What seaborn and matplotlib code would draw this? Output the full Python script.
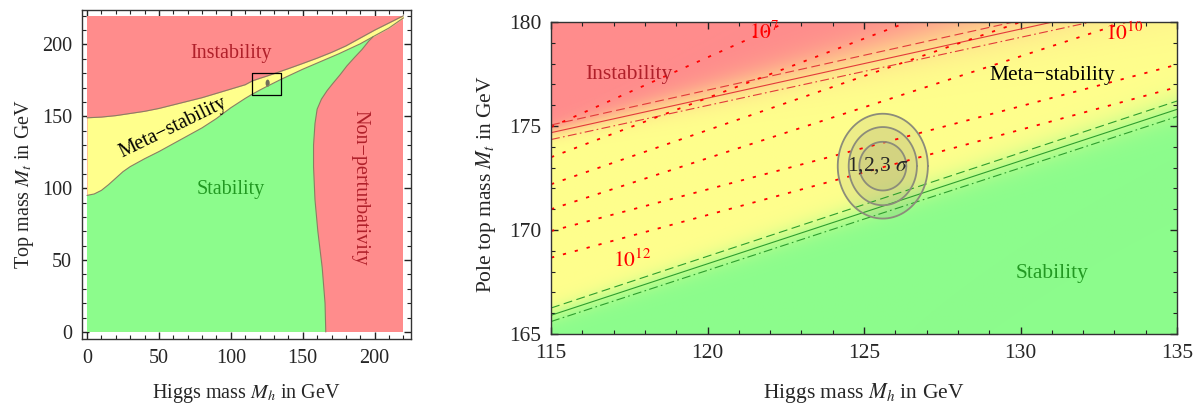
import numpy as np
import matplotlib
matplotlib.use("Agg")
import matplotlib.pyplot as plt
from matplotlib.ticker import MultipleLocator
import seaborn as sns

# ---- left panel: phase boundaries in the (Mh, Mt) plane, GeV ----
upper_mh = [0, 10, 20, 30, 40, 50, 60, 70, 80, 90, 100, 110, 115, 120, 125, 130,
            140, 150, 160, 170, 180, 190, 200, 210, 220]
upper_mt = [149, 149.5, 150.5, 152, 153.5, 155.5, 158, 160.5, 163, 166, 169, 172,
            174.7, 176.4, 178, 179.7, 183.2, 186.8, 190.5, 194.5, 199, 204.5, 210, 215, 220]
lower_mh = [0, 5, 10, 15, 20, 25, 30, 40, 50, 60, 70, 80, 90, 100, 110, 115, 120,
            125, 130, 135, 150, 175, 190, 199, 210, 220]
lower_mt = [95, 96, 98.5, 102.5, 107, 111.5, 115, 120.5, 125.5, 131, 136.5, 142,
            148.5, 156, 162.5, 165.5, 168.2, 170.8, 173.3, 175.8, 182.8, 193.5,
            200.5, 205.5, 211.5, 218.5]
nonpert_mh = [166, 165.5, 163.5, 160.5, 158.5, 157.5, 157.5, 158.5, 160, 163, 167,
              171, 176, 180.6, 186, 191, 196, 199]
nonpert_mt = [0, 20, 45, 70, 92, 115, 130, 145, 155, 162, 168, 173, 179, 185, 191,
              196.3, 202.5, 205.5]

# ---- right panel: zoom window ----
zoom_mh = [115, 135]
zoom_mt = [165, 180]

# boundary lines, Mt at Mh = 115 and Mh = 135
red_solid = [174.68, 181.32]
red_dash = [175.05, 181.75]
red_dashdot = [174.35, 180.90]
green_solid = [165.90, 175.80]
green_dash = [166.25, 176.20]
green_dashdot = [165.60, 175.45]

# colour shading edges (theory error band), Mt at Mh = 115 and 135, and blur width
pink_edge = [174.7, 182.2]
pink_blur = [0.2, 0.9]
green_edge = [165.95, 175.9]
green_blur = [0.25, 0.4]

# instability scale contours (dotted), Mt at Mh = 115 and Mh = 135
lambda_exp = [7, 8, 9, 10, 11, 12]
lambda_mt115 = [174.95, 173.5, 172.2, 171.0, 169.95, 168.67]
lambda_mt135 = [188.35, 184.9, 182.6, 180.8, 177.95, 176.87]

# 1,2,3 sigma regions
ell_mh0, ell_mt0 = 125.6, 173.07
ell_semi_mh = [0.75, 1.09, 1.44]
ell_semi_mt = [1.17, 1.88, 2.52]

PINK = "#ff8c8c"
YELLOW = "#ffff8c"
GREEN = "#8cfc8c"
RED_TXT = "#b0202a"
GREEN_TXT = "#229922"
FS1 = 14.5
FS2 = 15.5

sns.set_style("ticks")
plt.rcParams["font.family"] = ["Liberation Serif", "DejaVu Serif"]
plt.rcParams["mathtext.fontset"] = "stix"

fig = plt.figure(figsize=(11.93, 4.03), dpi=100)
ax1 = fig.add_axes([0.0687, 0.1588, 0.2755, 0.8164])
ax2 = fig.add_axes([0.4619, 0.1712, 0.5247, 0.7742])

# ---------------- left panel ----------------
ax1.fill_between([0, 220], 0, 220, color=PINK, lw=0)
grid = np.linspace(0, 220, 500)
up = np.interp(grid, upper_mh, upper_mt)
lo = np.interp(grid, lower_mh, lower_mt)
ax1.fill_between(grid, lo, up, color=YELLOW, lw=0)

k = lower_mh.index(199)
gx = np.concatenate([[0], lower_mh[:k + 1], nonpert_mh[::-1]])
gy = np.concatenate([[0], lower_mt[:k + 1], nonpert_mt[::-1]])
ax1.fill(gx, gy, color=GREEN, lw=0)

edge = "#8a7f62"
for xs, ys in [(upper_mh, upper_mt), (lower_mh, lower_mt), (nonpert_mh, nonpert_mt)]:
    sns.lineplot(x=xs, y=ys, ax=ax1, color=edge, lw=0.8, sort=False, estimator=None)

t = np.linspace(0, 2 * np.pi, 100)
ax1.fill(ell_mh0 + ell_semi_mh[-1] * np.cos(t), ell_mt0 + ell_semi_mt[-1] * np.sin(t),
         color="#6f6f5a", lw=0)
box_x = [zoom_mh[0], zoom_mh[1], zoom_mh[1], zoom_mh[0], zoom_mh[0]]
box_y = [zoom_mt[0], zoom_mt[0], zoom_mt[1], zoom_mt[1], zoom_mt[0]]
sns.lineplot(x=box_x, y=box_y, ax=ax1, color="black", lw=0.9, sort=False, estimator=None)

ax1.text(100, 194, "Instability", color=RED_TXT, fontsize=FS1, ha="center", va="center")
ax1.text(100, 99, "Stability", color=GREEN_TXT, fontsize=FS1, ha="center", va="center")
ax1.text(60, 142, "Meta\u2212stability", color="black", fontsize=FS1, ha="center",
         va="center", rotation=26)
ax1.text(190, 100, "Non\u2212perturbativity", color=RED_TXT, fontsize=FS1, ha="center",
         va="center", rotation=-90)

ax1.set_xlim(-3.5, 225)
ax1.set_ylim(-4.9, 224)
ax1.xaxis.set_major_locator(MultipleLocator(50))
ax1.yaxis.set_major_locator(MultipleLocator(50))
ax1.xaxis.set_minor_locator(MultipleLocator(10))
ax1.yaxis.set_minor_locator(MultipleLocator(10))
ax1.set_xlabel("Higgs mass $M_h$ in GeV", fontsize=FS1)
ax1.set_ylabel("Top mass $M_t$ in GeV", fontsize=FS1)
ax1.xaxis.set_label_coords(0.5, -0.13)
ax1.yaxis.set_label_coords(-0.14, 0.47)

# ---------------- right panel ----------------
mh = np.linspace(zoom_mh[0], zoom_mh[1], 500)
mt = np.linspace(zoom_mt[0], zoom_mt[1], 400)
MH, MT = np.meshgrid(mh, mt)
p_c = np.interp(MH, zoom_mh, pink_edge)
p_w = np.interp(MH, zoom_mh, pink_blur)
g_c = np.interp(MH, zoom_mh, green_edge)
g_w = np.interp(MH, zoom_mh, green_blur)
p_red = 1 / (1 + np.exp(-(MT - p_c) / p_w))
p_green = 1 / (1 + np.exp((MT - g_c) / g_w))
p_yel = np.clip(1 - p_red - p_green, 0, 1)
cols = [np.array(matplotlib.colors.to_rgb(c)) for c in (PINK, YELLOW, GREEN)]
img = (p_red[..., None] * cols[0] + p_yel[..., None] * cols[1] + p_green[..., None] * cols[2])
ax2.imshow(np.clip(img, 0, 1), extent=[zoom_mh[0], zoom_mh[1], zoom_mt[0], zoom_mt[1]],
           origin="lower", aspect="auto", interpolation="bilinear")

for ys, ls in [(red_solid, "-"), (red_dash, (0, (8, 4))), (red_dashdot, (0, (8, 3, 1.5, 3)))]:
    sns.lineplot(x=zoom_mh, y=ys, ax=ax2, color="#e23a3a", lw=0.8, linestyle=ls)
for ys, ls in [(green_solid, "-"), (green_dash, (0, (8, 4))), (green_dashdot, (0, (8, 3, 1.5, 3)))]:
    sns.lineplot(x=zoom_mh, y=ys, ax=ax2, color="#2e9e2e", lw=0.8, linestyle=ls)

for a, b in zip(lambda_mt115, lambda_mt135):
    sns.lineplot(x=zoom_mh, y=[a, b], ax=ax2, color="red", lw=1.3,
                 linestyle=(0, (1.8, 5)))

for sx, sy in zip(ell_semi_mh[::-1], ell_semi_mt[::-1]):
    ex = ell_mh0 + sx * np.cos(t)
    ey = ell_mt0 + sy * np.sin(t)
    ax2.fill(ex, ey, color="#8a8a70", alpha=0.14, lw=0)
    ax2.plot(ex, ey, color="#8c8c7a", lw=1.3)

ax2.text(125.45, 173.1, r"1,2,3 $\sigma$", fontsize=FS2, ha="center", va="center")
ax2.text(117.5, 177.5, "Instability", color=RED_TXT, fontsize=FS2, ha="center", va="center")
ax2.text(131.0, 177.45, "Meta\u2212stability", color="black", fontsize=FS2, ha="center", va="center")
ax2.text(131.0, 167.9, "Stability", color=GREEN_TXT, fontsize=FS2, ha="center", va="center")
lab_pos = {7: (121.8, 179.5), 10: (133.3, 179.45), 12: (117.6, 168.5)}
for e, (x, y) in lab_pos.items():
    ax2.text(x, y, f"$10^{{{e}}}$", color="red", fontsize=FS2, ha="center", va="center")

ax2.set_xlim(zoom_mh)
ax2.set_ylim(zoom_mt)
ax2.xaxis.set_major_locator(MultipleLocator(5))
ax2.yaxis.set_major_locator(MultipleLocator(5))
ax2.xaxis.set_minor_locator(MultipleLocator(1))
ax2.yaxis.set_minor_locator(MultipleLocator(1))
ax2.set_xlabel("Higgs mass $M_h$ in GeV", fontsize=FS2)
ax2.set_ylabel("Pole top mass $M_t$ in GeV", fontsize=FS2)
ax2.xaxis.set_label_coords(0.5, -0.15)
ax2.yaxis.set_label_coords(-0.085, 0.48)

for ax, fs in [(ax1, FS1), (ax2, FS2)]:
    ax.tick_params(which="both", direction="in", top=True, right=True, labelsize=fs,
                   color="#222222")
    ax.tick_params(which="major", length=5, width=1, pad=7)
    ax.tick_params(which="minor", length=3, width=0.8)
    for s in ax.spines.values():
        s.set_color("#333333")
        s.set_linewidth(1)

fig.savefig("out.png", dpi=100)
